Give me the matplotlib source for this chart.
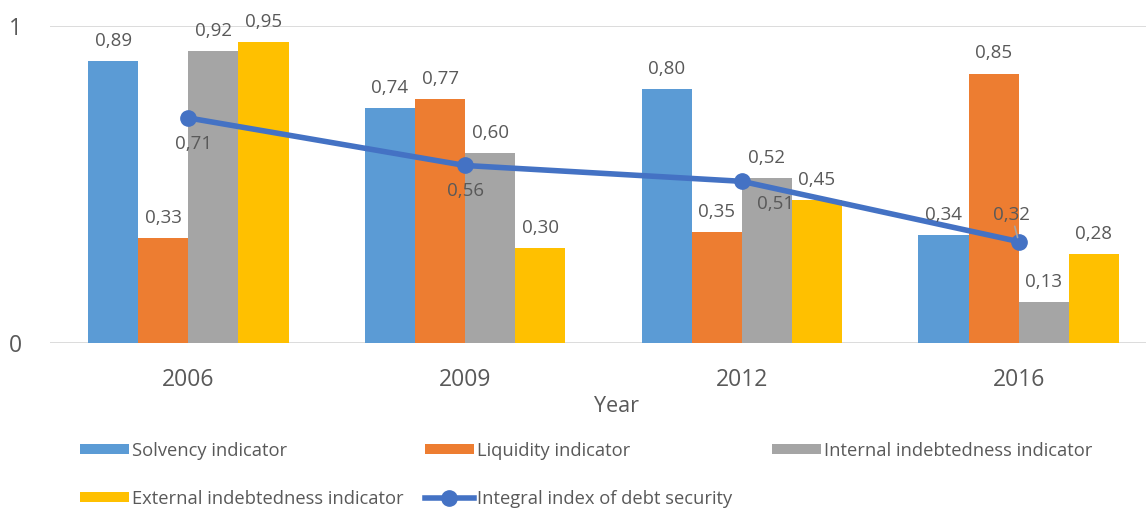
import numpy as np
import matplotlib
matplotlib.use("Agg")
import matplotlib.pyplot as plt

plt.rcParams['font.family'] = ['Open Sans', 'DejaVu Sans']

#%% data
years = ["2006", "2009", "2012", "2016"]
solvency = [0.89, 0.74, 0.80, 0.34]
liquidity = [0.33, 0.77, 0.35, 0.85]
internal = [0.92, 0.60, 0.52, 0.13]
external = [0.95, 0.30, 0.45, 0.28]
integral = [0.71, 0.56, 0.51, 0.32]

names = ["Solvency indicator", "Liquidity indicator",
         "Internal indebtedness indicator", "External indebtedness indicator"]
colors = ["#5B9BD5", "#ED7D31", "#A5A5A5", "#FFC000"]
line_col = "#4472C4"
txt_col = "#595959"

#%% figure
W, H = 1146, 509
fig = plt.figure(figsize=(W / 100, H / 100), dpi=100)
ax = fig.add_axes([50 / W, (H - 343) / H, 1107 / W, 317 / H])

x = np.arange(len(years))
bw = 0.181
bars = []
for k, (vals, c, n) in enumerate(zip([solvency, liquidity, internal, external], colors, names)):
    b = ax.bar(x + (k - 1.5) * bw, vals, bw, color=c, label=n, zorder=2)
    bars.append(b)
    for xi, v in zip(x + (k - 1.5) * bw, vals):
        ax.annotate(("%.2f" % v).replace(".", ","), (xi, v), xytext=(0, 8),
                    textcoords="offset points", ha="center", va="bottom",
                    fontsize=13.5, color=txt_col, zorder=4)

ln, = ax.plot(x, integral, color=line_col, lw=4, marker="o", ms=11,
              label="Integral index of debt security", zorder=3)
# label offsets for the line, in points
line_off = [(4, -12), (0, -12), (24, -10), (-5, 13)]
for i, v in enumerate(integral):
    s = ("%.2f" % v).replace(".", ",")
    dx, dy = line_off[i]
    if dy < 0:
        ax.annotate(s, (x[i], v), xytext=(dx, dy), textcoords="offset points",
                    ha="center", va="top", fontsize=13.5, color=txt_col, zorder=4)
    else:
        ax.annotate(s, (x[i], v), xytext=(dx, dy), textcoords="offset points",
                    ha="center", va="bottom", fontsize=13.5, color=txt_col, zorder=4,
                    arrowprops=dict(arrowstyle="-", color="#A5A5A5", lw=1.2,
                                    shrinkA=0, shrinkB=3))

ax.set_xlim(-0.5, 3.5)
ax.set_ylim(0, 1)
ax.set_yticks([0, 1])
ax.set_yticklabels(["0", "1"])
ax.set_xticks(x)
ax.set_xticklabels(years)
ax.grid(axis="y", color="#D9D9D9", lw=1.3, zorder=0)
for sp in ax.spines.values():
    sp.set_visible(False)
ax.tick_params(length=0, labelsize=16.5, colors=txt_col)
ax.tick_params(axis="x", pad=18)
ax.tick_params(axis="y", pad=20)

fig.text(617 / W, 1 - 406 / H, "Year", ha="center", va="center", fontsize=15.5, color=txt_col)

#%% legend, one column at a time (Excel style equal columns)
cols = [([bars[0], bars[3]], 63), ([bars[1], ln], 408), ([bars[2]], 755)]
for hs, xpos in cols:
    leg = fig.legend(hs, [h.get_label() for h in hs], loc="upper left",
                     bbox_to_anchor=(xpos / W, 1 - 425 / H),
                     frameon=False, fontsize=13.2, handlelength=2.7, handleheight=0.5,
                     handletextpad=0.15, labelspacing=1.65)
    for t in leg.get_texts():
        t.set_color(txt_col)

fig.savefig("out.png", dpi=100)
